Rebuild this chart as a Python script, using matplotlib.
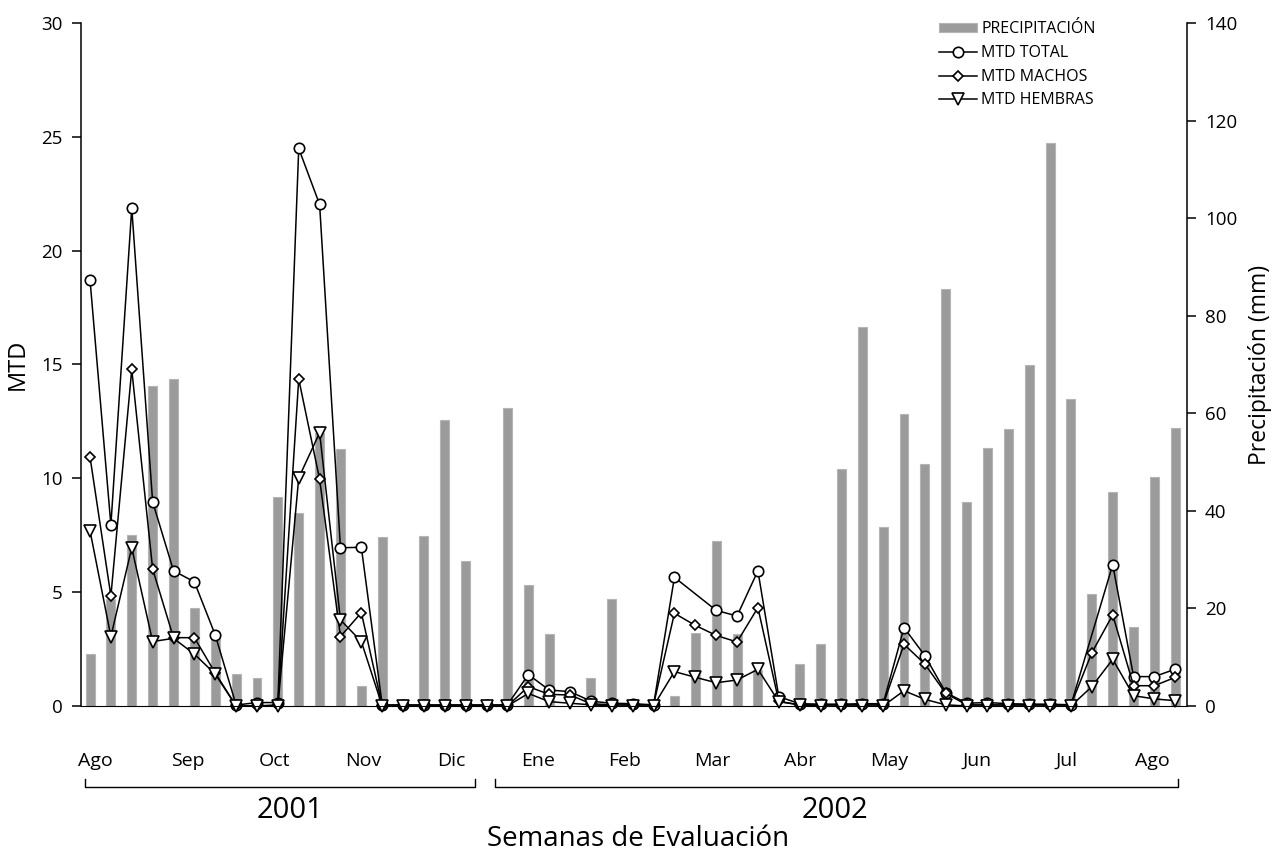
"""Fluctuación semanal del MTD y la precipitación, ago 2001 - ago 2002."""

import matplotlib

matplotlib.use("Agg")
import matplotlib.pyplot as plt
import matplotlib.transforms as mtransforms
import numpy as np

plt.rcParams.update(
    {
        "font.family": ["Open Sans", "DejaVu Sans"],
        "font.size": 13.5,
        "axes.linewidth": 1.1,
    }
)

# --- datos (una entrada por semana de evaluación) ---
precipitacion = [
    10.7, 22.0, 35.0, 65.6, 67.0, 20.0, 14.0, 6.6, 5.7, 42.9,
    39.5, 56.0, 52.7, 4.1, 34.7, 0.0, 34.9, 58.6, 29.7, 0.0,
    61.0, 24.8, 14.8, 0.0, 5.7, 21.9, 0.0, 0.0, 2.0, 14.9,
    33.9, 14.8, 7.4, 0.0, 8.6, 12.7, 48.6, 77.7, 36.7, 59.8,
    49.7, 85.5, 41.8, 52.9, 56.8, 69.8, 115.4, 62.9, 22.9, 43.9,
    16.1, 47.0, 56.9,
]
mtd_total = [
    18.72, 7.95, 21.87, 8.97, 5.94, 5.45, 3.12, 0.04, 0.15, 0.15,
    24.49, 22.03, 6.95, 6.97, 0.05, 0.05, 0.05, 0.05, 0.05, 0.05,
    0.05, 1.38, 0.70, 0.63, 0.21, 0.12, 0.10, 0.05, 5.65, np.nan,
    4.20, 3.95, 5.94, 0.41, 0.10, 0.08, 0.08, 0.10, 0.10, 3.44,
    2.21, 0.59, 0.12, 0.15, 0.10, 0.08, 0.08, 0.05, np.nan, 6.21,
    1.29, 1.29, 1.62,
]
mtd_machos = [
    10.94, 4.83, 14.78, 6.02, 3.00, 3.00, 1.45, 0.0, 0.0, 0.05,
    14.36, 9.96, 3.05, 4.10, 0.0, 0.0, 0.0, 0.0, 0.0, 0.0,
    0.0, 0.85, 0.51, 0.48, 0.10, 0.05, 0.05, 0.05, 4.07, 3.54,
    3.10, 2.81, 4.32, 0.20, 0.05, 0.05, 0.05, 0.05, 0.05, 2.71,
    1.84, 0.55, 0.05, 0.05, 0.05, 0.05, 0.05, 0.05, 2.34, 4.00,
    0.89, 0.89, 1.26,
]
mtd_hembras = [
    7.70, 3.05, 6.95, 2.83, 2.97, 2.28, 1.40, 0.0, 0.0, 0.0,
    10.02, 12.00, 3.78, 2.83, 0.0, 0.0, 0.0, 0.0, 0.0, 0.0,
    0.0, 0.55, 0.19, 0.12, 0.05, 0.0, 0.0, 0.0, 1.51, 1.26,
    1.02, 1.14, 1.61, 0.19, 0.05, 0.0, 0.0, 0.0, 0.0, 0.67,
    0.29, 0.05, 0.0, 0.0, 0.0, 0.0, 0.0, 0.0, 0.85, 2.05,
    0.45, 0.31, 0.23,
]

meses = ["Ago", "Sep", "Oct", "Nov", "Dic", "Ene", "Feb",
         "Mar", "Abr", "May", "Jun", "Jul", "Ago"]
anios = ["2001", "2002"]

# --- maquetación (en unidades de semana) ---
MES_POS = [0.24, 4.7, 8.86, 13.1, 17.3, 21.47, 25.6, 29.8, 34.0, 38.3, 42.5, 46.8, 50.9]
ANIO_TRAMOS = [(-0.26, 18.45), (19.4, 52.13)]
ANIO_CENTRO = [9.58, 35.7]


def plot_serie(ax, x, y, marker, ms, label):
    y = np.asarray(y, dtype=float)
    ok = ~np.isnan(y)  # semanas sin dato: la línea une los puntos vecinos
    ax.plot(x[ok], y[ok], color="black", linewidth=1.1, marker=marker,
            markersize=ms, markerfacecolor="white", markeredgecolor="black",
            markeredgewidth=1.2, label=label, clip_on=False)


def main():
    semanas = np.arange(len(precipitacion))

    fig = plt.figure(figsize=(12.72, 8.52), dpi=100)
    ax = fig.add_axes([0.0633, 0.1714, 0.8699, 0.8016])
    ax2 = ax.twinx()
    ax.set_zorder(ax2.get_zorder() + 1)
    ax.patch.set_visible(False)

    ax2.bar(semanas, precipitacion, width=0.43, color="#9b9b9b",
            edgecolor="#b5b5b5", linewidth=0.8, label="PRECIPITACIÓN")

    plot_serie(ax, semanas, mtd_total, "o", 7.5, "MTD TOTAL")
    plot_serie(ax, semanas, mtd_machos, "D", 5, "MTD MACHOS")
    plot_serie(ax, semanas, mtd_hembras, "v", 8, "MTD HEMBRAS")

    ax.set_xlim(-0.455, 52.56)
    ax.set_ylim(0, 30)
    ax2.set_ylim(0, 140)
    ax.set_yticks(np.arange(0, 31, 5))
    ax2.set_yticks(np.arange(0, 141, 20))

    for a in (ax, ax2):
        a.spines["top"].set_visible(False)
    ax.spines["right"].set_visible(False)
    ax2.spines["left"].set_visible(False)
    ax2.spines["bottom"].set_visible(False)
    ax.spines["bottom"].set_linewidth(0.8)

    ax.tick_params(axis="y", direction="out", length=6.5, width=1.1, pad=6.5)
    ax2.tick_params(axis="y", direction="out", length=6.5, width=1.1, pad=6.5)
    ax.set_xticks(MES_POS, meses)
    ax.tick_params(axis="x", length=0, pad=33, labelsize=14)
    ax2.tick_params(axis="x", length=0, labelbottom=False)

    ax.set_ylabel("MTD", fontsize=17, labelpad=8)
    ax2.set_ylabel("Precipitación (mm)", fontsize=16.5, labelpad=8)

    # corchetes de año bajo los meses
    trans = mtransforms.blended_transform_factory(ax.transData, ax.transAxes)
    for (x0, x1), xc, anio in zip(ANIO_TRAMOS, ANIO_CENTRO, anios):
        ax.plot([x0, x0, x1, x1], [-0.107, -0.118, -0.118, -0.107],
                transform=trans, color="black", linewidth=1.0, clip_on=False)
        ax.text(xc, -0.164, anio, transform=trans, ha="center",
                va="baseline", fontsize=21)
    fig.text(638 / 1272, 6 / 852, "Semanas de Evaluación", ha="center",
             va="baseline", fontsize=20)

    h2, l2 = ax2.get_legend_handles_labels()
    h1, l1 = ax.get_legend_handles_labels()
    ax.legend(h2 + h1, l2 + l1, loc="upper left", bbox_to_anchor=(0.738, 0.975),
              bbox_transform=fig.transFigure, frameon=False, fontsize=11.5,
              handlelength=2.4, handleheight=0.5, handletextpad=0.25,
              labelspacing=0.48, borderpad=0, borderaxespad=0)

    fig.savefig("out.png", dpi=100)
    plt.close(fig)


if __name__ == "__main__":
    main()
